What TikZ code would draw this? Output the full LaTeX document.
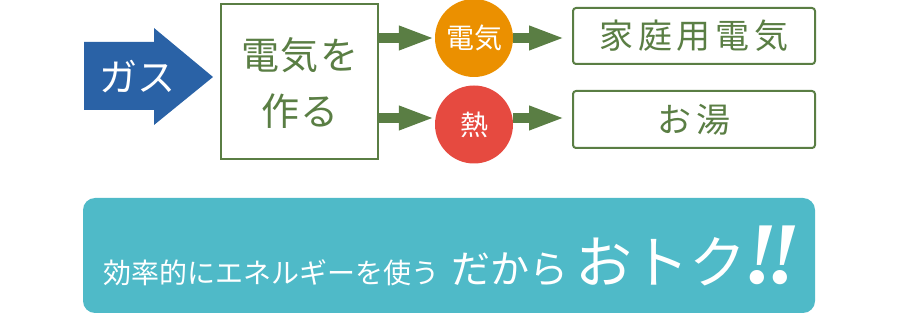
\documentclass[tikz,border=0pt]{standalone}
\usepackage{fontspec}
\newfontfamily\jp{Noto Sans CJK JP}
\newfontfamily\bangfont{Liberation Serif}
\usetikzlibrary{arrows.meta}
\definecolor{gasblue}{HTML}{2A62A6}
\definecolor{leaf}{HTML}{5A7E44}
\definecolor{orng}{HTML}{EB9000}
\definecolor{heatred}{HTML}{E64A40}
\definecolor{bannerteal}{HTML}{4FBAC8}
\begin{document}
\begin{tikzpicture}[x=1pt,y=-1pt,
  fat/.style={draw=leaf, line width=10pt, -{Triangle[length=36pt,width=22pt]}},
  bigbox/.style={draw=leaf, line width=2pt, inner sep=0pt},
  outbox/.style={draw=leaf, line width=2pt, rounded corners=3pt, minimum width=242pt, inner sep=0pt,
    text=leaf, font=\jp\fontsize{34}{36}\selectfont\addfontfeatures{LetterSpace=14}},
  dot/.style={circle, minimum size=78pt, inner sep=0pt, text=white, font=\jp\fontsize{28}{30}\selectfont}]
\useasboundingbox (0,0) rectangle (900,320);
% blue gas arrow
\fill[gasblue] (84,42) -- (154,42) -- (154,28) -- (213,77) -- (154,125) -- (154,110) -- (84,110) -- cycle;
\node[text=white, font=\jp\fontsize{38}{40}\selectfont, inner sep=0pt] (gas) at (137,77) {ガス};
% generator box
\node[bigbox, minimum width=157pt, minimum height=155pt] (make) at (299.5,81.5) {};
\node[text=leaf, align=center, font=\jp\fontsize{38}{56}\selectfont\addfontfeatures{LetterSpace=5}, inner sep=0pt] (maketext) at (300,83) {電気を\\作る};
% circles
\node[dot, fill=orng] (elec) at (474,38) {電気};
\node[dot, fill=heatred] (heat) at (474,124.5) {熱};
% output boxes
\node[outbox, minimum height=56pt] (home) at (694,36) {家庭用電気};
\node[outbox, minimum height=57pt] (bath) at (694,119.5) {お湯};
% fat arrows
\coordinate (lowrow) at (0,118);
\draw[fat] (make.east |- elec.center) -- (elec.west);
\draw[fat, shorten >=7pt] (elec.east) -- (home.west |- elec.center);
\draw[fat] (make.east |- lowrow) -- (heat.west |- lowrow);
\draw[fat, shorten >=7pt] (heat.east |- lowrow) -- (bath.west |- lowrow);
% banner
\node[fill=bannerteal, rounded corners=12pt, minimum width=732pt, minimum height=115pt, inner sep=0pt] (banner) at (449,255.5) {};
\node[anchor=base west, inner sep=0pt, text=white] (slogan) at (103,284) {{\jp\fontsize{28}{30}\selectfont 効率的にエネルギーを使う}\hspace{12pt}{\jp\fontsize{39}{40}\selectfont だから}\hspace{7pt}{\jp\fontsize{57}{60}\selectfont おトク}\kern-3pt{\bangfont\bfseries\itshape\fontsize{88}{90}\selectfont !\kern-11pt!}};
\end{tikzpicture}
\end{document}
